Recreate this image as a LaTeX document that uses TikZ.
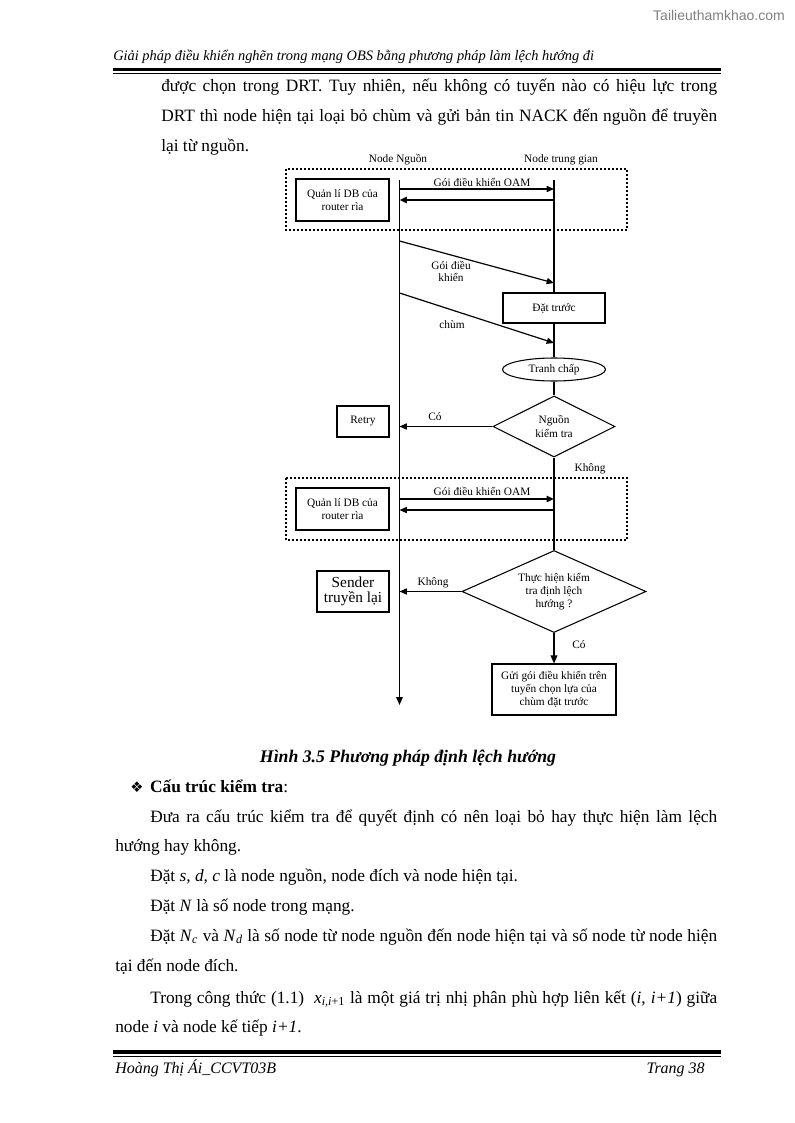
\documentclass[tikz,border=0pt]{standalone}
\usepackage{fontspec}
\setmainfont{Liberation Serif}
\newfontfamily\dejavu{DejaVu Sans}
\newfontfamily\lsans{Liberation Sans}
\usetikzlibrary{shapes.geometric,arrows.meta}
\begin{document}
\begin{tikzpicture}[x=0.75pt,y=-0.75pt]
\tikzset{
 body/.style={anchor=base west, inner sep=0pt, font=\fontsize{13}{15}\selectfont},
 dg/.style={font=\fontsize{8.5}{10}\selectfont, align=center, inner sep=0pt},
 sbox/.style={dg, draw, line width=0.8pt, rectangle},
 life/.style={line width=1.1pt},
 tip/.style={-{Triangle[length=5.5pt,width=4.6pt]}},
 msg/.style={line width=0.9pt, tip},
 msgb/.style={line width=1.5pt, tip},
 dotbox/.style={line width=0.9pt, dash pattern=on 1.3pt off 1.7pt},
 hdr/.style={anchor=base west, inner sep=0pt, font=\itshape\fontsize{12}{14}\selectfont}
}
\useasboundingbox (0,0) rectangle (794,1123);
\fill[white] (0,0) rectangle (794,1123);

% watermark
\node[anchor=east, inner sep=0pt, font=\lsans\fontsize{10.5}{12}\selectfont, text=black!50] (wm) at (785,15) {Tailieuthamkhao.com};

% header
\node[hdr, font=\itshape\fontsize{10.8}{13}\selectfont] (head) at (113,61) {Giải pháp điều khiển nghẽn trong mạng OBS bằng phương pháp làm lệch hướng đi};
\draw[line width=2.4pt] (113,69.5) -- (721,69.5);
\draw[line width=0.6pt] (113,73.5) -- (721,73.5);

% top paragraph
\node[body] (l1) at (161,92) {\makebox[417pt][s]{được chọn trong DRT. Tuy nhiên, nếu không có tuyến nào có hiệu lực trong}};
\node[body] (l2) at (161,122) {\makebox[417pt][s]{DRT thì node hiện tại loại bỏ chùm và gửi bản tin NACK đến nguồn để truyền}};
\node[body] (l3) at (161,152) {lại từ nguồn.};

% ---------------- diagram ----------------
\node[dg] (nn) at (398,160) {Node Nguồn};
\node[dg] (ntg) at (561,160) {Node trung gian};

\draw[dotbox] (286,169) rectangle (627,230);
\draw[dotbox] (286,478) rectangle (627,540);

\node[sbox, minimum width=69.75pt, minimum height=31.5pt] (ql1) at (342.5,200) {Quản lí DB của\\router rìa};
\node[sbox, minimum width=76.5pt, minimum height=22.5pt] (dt) at (554,308) {Đặt trước};
\node[dg, draw, ellipse, line width=0.8pt, minimum width=77.25pt, minimum height=17.25pt] (tc) at (554,369.5) {Tranh chấp};
\node[dg, draw, diamond, aspect=2, line width=0.8pt, minimum width=91.5pt, minimum height=45.75pt] (d1) at (554,426.5) {Nguồn\\kiểm tra};
\node[sbox, minimum width=39pt, minimum height=23.25pt] (retry) at (363,421.5) {Retry};
\node[sbox, minimum width=69.75pt, minimum height=31.5pt] (ql2) at (342.5,509) {Quản lí DB của\\router rìa};
\node[sbox, minimum width=54pt, minimum height=30.75pt, font=\fontsize{11.5}{11.5}\selectfont] (snd) at (353,591.5) {Sender\\truyền lại};
\node[dg, draw, diamond, aspect=2.24, line width=0.8pt, minimum width=138pt, minimum height=61.5pt, font=\fontsize{8.5}{9.8}\selectfont] (d2) at (554,591.5) {Thực hiện kiểm\\tra định lệch\\hướng ?};
\node[sbox, minimum width=93pt, minimum height=38.25pt, font=\fontsize{8.5}{9.8}\selectfont] (gui) at (554,689.5) {Gửi gói điều khiển trên\\tuyến chọn lựa của\\chùm đặt trước};

% lifelines
\coordinate (Ltop) at (399.5,180);
\coordinate (Lbot) at (399.5,705);
\coordinate (Rtop) at (554,180);
\draw[life, -{Triangle[length=6pt,width=5pt]}] (Ltop) -- (Lbot);
\draw[life] (Rtop) -- (dt.north);
\draw[life] (dt.south) -- (tc.north);
\draw[life] (tc.south) -- (d1.north);
\draw[life] (d1.south) -- (d2.north);
\draw[life, -{Triangle[length=6pt,width=5pt]}] (d2.south) -- (gui.north);

% messages
\coordinate (m1a) at (399.5,189); \coordinate (m1b) at (554,189);
\coordinate (m2a) at (554,200);   \coordinate (m2b) at (399.5,200);
\draw[msg] (m1a) -- (m1b);
\draw[msgb] (m2a) -- (m2b);
\node[dg] (oam1) at (482,182) {Gói điều khiển OAM};

\coordinate (g1a) at (399.5,241); \coordinate (g1b) at (554,283);
\draw[msg] (g1a) -- (g1b);
\node[dg, font=\fontsize{8.5}{9}\selectfont] (gdk) at (451,271) {Gói điều\\khiển};

\coordinate (c1a) at (399.5,293); \coordinate (c1b) at (554,343);
\draw[msg] (c1a) -- (c1b);
\node[dg] (chum) at (452,325) {chùm};

\draw[msg] (d1.west) -- (d1.west -| Ltop);
\node[dg] (co1) at (435,417) {Có};
\node[dg] (kh1) at (590,469) {Không};

\coordinate (o2a) at (399.5,499); \coordinate (o2b) at (554,499);
\coordinate (o3a) at (554,510);   \coordinate (o3b) at (399.5,510);
\draw[msgb] (o2a) -- (o2b);
\draw[msg] (o3a) -- (o3b);
\node[dg] (oam2) at (482,491) {Gói điều khiển OAM};

\draw[msg] (d2.west) -- (d2.west -| Ltop);
\node[dg] (kh2) at (433,583) {Không};
\node[dg] (co2) at (579,645) {Có};

% caption and text
\node[anchor=base, inner sep=0pt, font=\bfseries\itshape\fontsize{13.3}{15}\selectfont] (cap) at (408,762) {Hình 3.5 Phương pháp định lệch hướng};
\node[body] (bul) at (130,792) {{\dejavu\fontsize{11}{12}\selectfont ❖}\hspace{5pt}\textbf{Cấu trúc kiểm tra}:};
\node[body] (p1) at (150,822) {\makebox[425.25pt][s]{Đưa ra cấu trúc kiểm tra để quyết định có nên loại bỏ hay thực hiện làm lệch}};
\node[body] (p2) at (115,851) {hướng hay không.};
\node[body] (p3) at (150,881) {Đặt \textit{s, d, c} là node nguồn, node đích và node hiện tại.};
\node[body] (p4) at (150,911) {Đặt \textit{N} là số node trong mạng.};
\node[body] (p5) at (150,941) {\makebox[425.25pt][s]{Đặt \textit{N}\textsubscript{\textit{c}} và \textit{N}\textsubscript{\textit{d}} là số node từ node nguồn đến node hiện tại và số node từ node hiện}};
\node[body] (p6) at (115,971) {tại đến node đích.};
\node[body] (p7) at (150,1003) {\makebox[425.25pt][s]{Trong công thức (1.1) \ \textit{x}\textsubscript{\textit{i,i}+1} là một giá trị nhị phân phù hợp liên kết (\textit{i, i+1}) giữa}};
\node[body] (p8) at (115,1032) {node \textit{i} và node kế tiếp \textit{i+1}.};

% footer
\draw[line width=2.4pt] (113,1052) -- (721,1052);
\draw[line width=0.6pt] (113,1056) -- (721,1056);
\node[hdr] (fl) at (115,1073) {Hoàng Thị Ái\_CCVT03B};
\node[hdr, anchor=base east] (fr) at (705,1073) {Trang 38};
\end{tikzpicture}
\end{document}
